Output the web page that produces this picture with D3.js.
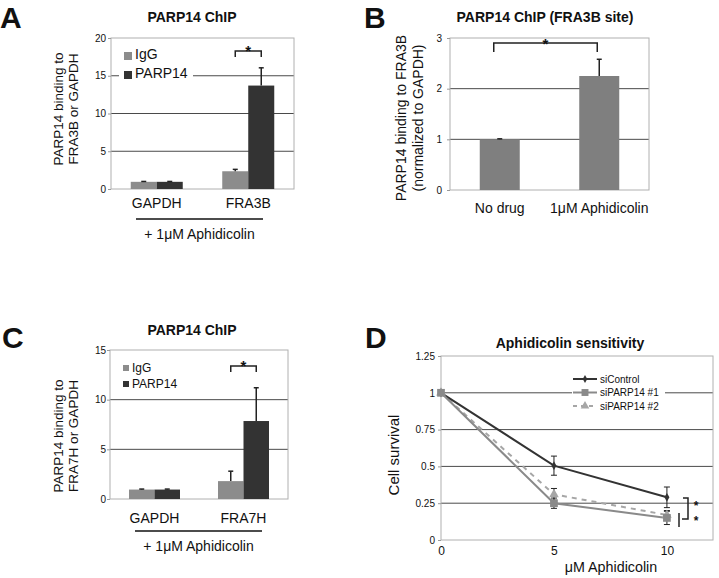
<!DOCTYPE html>
<html><head><meta charset="utf-8">
<script src="https://cdn.jsdelivr.net/npm/d3@7"></script>
<style>
body{margin:0;background:#fff;}
svg text{font-family:"Liberation Sans",Arial,Helvetica,sans-serif;fill:#111;}
</style></head><body>
<svg id="c" width="719" height="578"></svg>
<script>
// ---------- DATA ----------
const seriesNames = ["IgG", "PARP14"];
const catsA = ["GAPDH", "FRA3B"];
const igA = [0.95, 2.35];
const igAErr = [0.05, 0.25];
const parpA = [0.95, 13.7];
const parpAErr = [0.05, 2.35];
const yTicksA = [0, 5, 10, 15, 20];

const catsB = ["No drug", "1\u03bcM Aphidicolin"];
const valsB = [1.0, 2.25];
const errB = [0.01, 0.33];
const yTicksB = [0, 1, 2, 3];

const catsC = ["GAPDH", "FRA7H"];
const igC = [0.95, 1.8];
const igCErr = [0.05, 1.0];
const parpC = [0.95, 7.85];
const parpCErr = [0.05, 3.35];
const yTicksC = [0, 5, 10, 15];

const dosesD = [0, 5, 10];
const seriesD = ["siControl", "siPARP14 #1", "siPARP14 #2"];
const siControl = [1.0, 0.505, 0.29];
const siControlErr = [0, 0.065, 0.07];
const si1 = [1.0, 0.25, 0.15];
const si1Err = [0, 0.035, 0.045];
const si2 = [1.0, 0.31, 0.17];
const si2Err = [0, 0.04, 0.03];
const yTicksD = [0, 0.25, 0.5, 0.75, 1, 1.25];
const xTicksD = [0, 5, 10];

// ---------- HELPERS ----------
const svg = d3.select("#c");
const GRID = "#4a4a4a", FRAME = "#b0b0b0", ERR = "#222";

function grid(g, x, y, ticks) {
  const [l, r] = x.range();
  ticks.slice(1, -1).forEach(t => {
    g.append("line").attr("x1", l).attr("x2", r).attr("y1", y(t)).attr("y2", y(t))
      .attr("stroke", GRID).attr("stroke-width", 1);
  });
}
function frame(g, x, y) {
  const [l, r] = x.range(); const [b, t] = y.range();
  g.append("rect").attr("x", l).attr("y", t).attr("width", r - l).attr("height", b - t)
    .attr("fill", "none").attr("stroke", FRAME).attr("stroke-width", 1);
}
function yAxis(g, y, left, ticks, gap) {
  const a = g.append("g").attr("transform", `translate(${left},0)`)
    .call(d3.axisLeft(y).tickValues(ticks).tickSize(3).tickPadding(gap - 3).tickFormat(d => String(d)));
  a.select(".domain").remove();
  a.selectAll(".tick line").attr("stroke", "#999");
  a.selectAll("text").attr("font-size", 10).attr("fill", "#222");
}
function catAxis(g, x0, bottom, pad) {
  const a = g.append("g").attr("transform", `translate(0,${bottom})`)
    .call(d3.axisBottom(x0).tickSize(0).tickPadding(pad));
  a.select(".domain").remove();
  a.selectAll("text").attr("font-size", 14).attr("fill", "#111");
}
function upperErr(g, cx, y, v, e, cap) {
  g.append("line").attr("x1", cx).attr("x2", cx).attr("y1", y(v)).attr("y2", y(v + e))
    .attr("stroke", ERR).attr("stroke-width", 1.5);
  g.append("line").attr("x1", cx - cap).attr("x2", cx + cap).attr("y1", y(v + e)).attr("y2", y(v + e))
    .attr("stroke", ERR).attr("stroke-width", 1.5);
}
function bracket(g, x1, x2, top, drop) {
  g.append("path").attr("d", `M${x1},${top + drop}V${top}H${x2}V${top + drop}`)
    .attr("fill", "none").attr("stroke", "#222").attr("stroke-width", 1.5);
}
function star(g, x, yb, fs) {
  g.append("text").attr("x", x).attr("y", yb).attr("text-anchor", "middle")
    .attr("font-size", fs || 15).attr("font-weight", "bold").text("*");
}
function letter(g, t, x, yb) {
  g.append("text").attr("x", x).attr("y", yb).attr("font-size", 30).attr("font-weight", "bold").text(t);
}
function title(g, t, x, yb) {
  g.append("text").attr("x", x).attr("y", yb).attr("text-anchor", "middle")
    .attr("font-size", 14).attr("font-weight", "bold").text(t);
}
function yLabel(g, lines, xs, cy, fs) {
  lines.forEach((t, i) => {
    g.append("text").attr("transform", `translate(${xs[i]},${cy}) rotate(-90)`)
      .attr("text-anchor", "middle").attr("font-size", fs).text(t);
  });
}

const colorS = d3.scaleOrdinal().domain(seriesNames).range(["#8c8c8c", "#333333"]);

function groupedPanel(o) {
  const g = svg.append("g");
  const x0 = d3.scaleBand().domain(o.cats).range(o.xr);
  const mid = x0.bandwidth() / 2;
  const x1 = d3.scaleBand().domain(seriesNames).range([mid - o.barW, mid + o.barW]);
  const y = d3.scaleLinear().domain([0, o.ticks[o.ticks.length - 1]]).range(o.yr);
  grid(g, x0, y, o.ticks);
  if (o.legendBg) {
    g.append("rect").attr("x", o.legendBg[0]).attr("y", o.legendBg[1])
      .attr("width", o.legendBg[2]).attr("height", o.legendBg[3]).attr("fill", "#fff");
  }
  frame(g, x0, y);
  yAxis(g, y, o.xr[0], o.ticks, o.tickGap);
  const vals = [o.ig, o.parp], errs = [o.igErr, o.parpErr];
  seriesNames.forEach((s, si) => {
    o.cats.forEach((c, ci) => {
      const v = vals[si][ci];
      g.append("rect").attr("x", x0(c) + x1(s)).attr("width", x1.bandwidth())
        .attr("y", y(v)).attr("height", y(0) - y(v)).attr("fill", colorS(s));
    });
  });
  seriesNames.forEach((s, si) => {
    o.cats.forEach((c, ci) => {
      upperErr(g, x0(c) + x1(s) + x1.bandwidth() / 2, y, vals[si][ci], errs[si][ci], 2.5);
    });
  });
  catAxis(g, x0, o.yr[0], o.catPad);
  // legend
  seriesNames.forEach((s, i) => {
    const ly = o.legY[i];
    g.append("rect").attr("x", o.legX).attr("y", ly - o.legSq).attr("width", o.legSq).attr("height", o.legSq)
      .attr("fill", colorS(s));
    g.append("text").attr("x", o.legX + o.legSq + 3).attr("y", ly + o.legDy).attr("font-size", o.legFs).text(s);
  });
  // significance
  const c2 = o.cats[1];
  const xa = x0(c2) + x1(seriesNames[0]) + x1.bandwidth() / 2;
  const xb = x0(c2) + x1(seriesNames[1]) + x1.bandwidth() / 2;
  bracket(g, xa, xb, o.brTop, 6);
  star(g, (xa + xb) / 2, o.starY);
  // underline + treatment label
  g.append("line").attr("x1", o.ul[0]).attr("x2", o.ul[1]).attr("y1", o.ul[2]).attr("y2", o.ul[2])
    .attr("stroke", "#111").attr("stroke-width", 1.5);
  g.append("text").attr("x", (o.ul[0] + o.ul[1]) / 2).attr("y", o.treatY).attr("text-anchor", "middle")
    .attr("font-size", 14).text("+ 1\u03bcM Aphidicolin");
  return g;
}

// ---------- PANEL A ----------
const gA = groupedPanel({
  cats: catsA, ig: igA, igErr: igAErr, parp: parpA, parpErr: parpAErr, ticks: yTicksA,
  xr: [111, 294], yr: [189, 38], barW: 26, tickGap: 5, catPad: 9,
  legendBg: [119, 44, 74, 42], legX: 124, legY: [60, 79], legSq: 8, legDy: -1, legFs: 14,
  brTop: 51, starY: 56, ul: [136, 263, 219], treatY: 239
});
letter(gA, "A", 0, 28);
title(gA, "PARP14 ChIP", 192, 22);
yLabel(gA, ["PARP14 binding to", "FRA3B or GAPDH"], [63, 78], 109, 13.5);

// ---------- PANEL B ----------
(function () {
  const g = svg.append("g");
  const x = d3.scaleBand().domain(catsB).range([450, 649]);
  const y = d3.scaleLinear().domain([0, 3]).range([190, 38]);
  grid(g, x, y, yTicksB);
  frame(g, x, y);
  yAxis(g, y, 450, yTicksB, 8);
  const bw = 40;
  catsB.forEach((c, i) => {
    g.append("rect").attr("x", x(c) + x.bandwidth() / 2 - bw / 2).attr("width", bw)
      .attr("y", y(valsB[i])).attr("height", y(0) - y(valsB[i])).attr("fill", "#7f7f7f");
  });
  catsB.forEach((c, i) => upperErr(g, x(c) + x.bandwidth() / 2, y, valsB[i], errB[i], 2.5));
  catAxis(g, x, 190, 13);
  const xa = x(catsB[0]) + x.bandwidth() / 2 - 6, xb = x(catsB[1]) + x.bandwidth() / 2 - 2;
  bracket(g, xa, xb, 43, 9);
  star(g, (xa + xb) / 2, 49);
  letter(g, "B", 364, 28);
  title(g, "PARP14 ChIP (FRA3B site)", 545, 22);
  yLabel(g, ["PARP14 binding to FRA3B", "(normalized to GAPDH)"], [406, 423], 118, 14);
})();

// ---------- PANEL C ----------
const gC = groupedPanel({
  cats: catsC, ig: igC, igErr: igCErr, parp: parpC, parpErr: parpCErr, ticks: yTicksC,
  xr: [110, 288], yr: [499, 350], barW: 25.5, tickGap: 4, catPad: 14,
  legendBg: null, legX: 123, legY: [371, 387], legSq: 6, legDy: 1, legFs: 12,
  brTop: 366, starY: 371, ul: [135, 262, 531], treatY: 551
});
letter(gC, "C", 2, 348);
title(gC, "PARP14 ChIP", 192, 335);
yLabel(gC, ["PARP14 binding to", "FRA7H or GAPDH"], [63, 78], 436, 13.5);

// ---------- PANEL D ----------
(function () {
  const g = svg.append("g");
  const x = d3.scaleLinear().domain([0, 12.04]).range([441, 713]);
  const y = d3.scaleLinear().domain([0, 1.25]).range([540, 356]);
  grid(g, x, y, yTicksD);
  g.append("rect").attr("x", 572).attr("y", 369).attr("width", 93).attr("height", 44).attr("fill", "#fff");
  frame(g, x, y);
  yAxis(g, y, 441, yTicksD, 6);
  const xa = g.append("g").attr("transform", "translate(0,540)")
    .call(d3.axisBottom(x).tickValues(xTicksD).tickSize(0).tickPadding(6).tickFormat(d => String(d)));
  xa.select(".domain").remove();
  xa.selectAll("text").attr("font-size", 12).attr("fill", "#111");
  g.append("text").attr("x", 611).attr("y", 572).attr("text-anchor", "middle").attr("font-size", 14.3)
    .text("\u03bcM Aphidicolin");
  yLabel(g, ["Cell survival"], [399], 455, 15);
  letter(g, "D", 365, 348);
  title(g, "Aphidicolin sensitivity", 570, 348);

  const defs = [
    { name: seriesD[2], v: si2, e: si2Err, color: "#a6a6a6", dash: "5,5", sym: d3.symbolTriangle, size: 40 },
    { name: seriesD[0], v: siControl, e: siControlErr, color: "#333333", dash: null, sym: d3.symbolDiamond, size: 22 },
    { name: seriesD[1], v: si1, e: si1Err, color: "#8a8a8a", dash: null, sym: d3.symbolSquare, size: 60 }
  ];
  const line = d3.line().x((d, i) => x(dosesD[i])).y(d => y(d));
  defs.forEach(s => {
    g.append("path").datum(s.v).attr("d", line).attr("fill", "none").attr("stroke", s.color)
      .attr("stroke-width", 2).attr("stroke-dasharray", s.dash);
  });
  defs.forEach(s => {
    s.v.forEach((v, i) => {
      if (!s.e[i]) return;
      const cx = x(dosesD[i]);
      g.append("line").attr("x1", cx).attr("x2", cx).attr("y1", y(v - s.e[i])).attr("y2", y(v + s.e[i]))
        .attr("stroke", ERR).attr("stroke-width", 1);
      [v - s.e[i], v + s.e[i]].forEach(w => g.append("line").attr("x1", cx - 3).attr("x2", cx + 3)
        .attr("y1", y(w)).attr("y2", y(w)).attr("stroke", ERR).attr("stroke-width", 1));
    });
  });
  defs.forEach(s => {
    s.v.forEach((v, i) => {
      g.append("path").attr("d", d3.symbol().type(s.sym).size(s.size)())
        .attr("transform", `translate(${x(dosesD[i])},${y(v)})`).attr("fill", s.color);
    });
  });
  // legend
  const legOrder = [defs[1], defs[2], defs[0]];
  const legY = [379, 392.5, 406];
  legOrder.forEach((s, i) => {
    g.append("line").attr("x1", 573).attr("x2", 597).attr("y1", legY[i]).attr("y2", legY[i])
      .attr("stroke", s.color).attr("stroke-width", 2).attr("stroke-dasharray", s.dash ? "4,4" : null);
    g.append("path").attr("d", d3.symbol().type(s.sym).size(s.size * 0.8)())
      .attr("transform", `translate(585,${legY[i]})`).attr("fill", s.color);
    g.append("text").attr("x", 600).attr("y", legY[i] + 3.5).attr("font-size", 10).text(s.name);
  });
  // significance
  g.append("path").attr("d", "M683,498H688V519H682").attr("fill", "none").attr("stroke", "#222").attr("stroke-width", 1.5);
  g.append("line").attr("x1", 679).attr("x2", 679).attr("y1", 513).attr("y2", 527).attr("stroke", "#222").attr("stroke-width", 1.5);
  star(g, 696, 510, 12);
  star(g, 696, 524.5, 12);
})();
</script></body></html>
